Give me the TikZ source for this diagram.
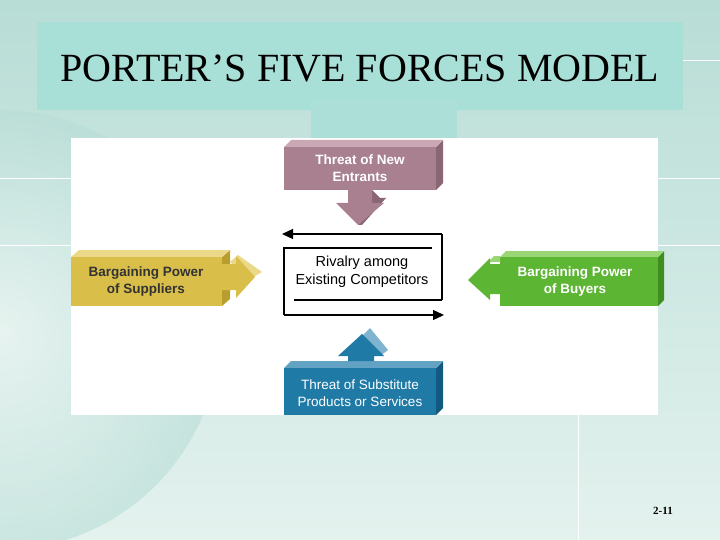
\documentclass[tikz,border=0pt]{standalone}
\usepackage{fontspec}
\setsansfont{Liberation Sans}
\setmainfont{Liberation Serif}
\usetikzlibrary{arrows.meta}
\begin{document}
\begin{tikzpicture}[x=1pt,y=-1pt,
  lbl/.style={font=\sffamily\bfseries\fontsize{13.5}{17}\selectfont,align=center},
  rline/.style={line width=1.3pt},
  rarr/.style={line width=1.3pt,-{Triangle[length=11pt,width=10pt]}}]
\definecolor{bgA}{HTML}{B8DDD6}\definecolor{bgB}{HTML}{E4F2EE}
\definecolor{ttl}{HTML}{A8E0D8}
\definecolor{pinkF}{HTML}{A8808F}\definecolor{pinkD}{HTML}{8A6674}\definecolor{pinkL}{HTML}{C9A8B4}
\definecolor{yelF}{HTML}{D9BE4A}\definecolor{yelD}{HTML}{B89E2E}\definecolor{yelL}{HTML}{EBD889}
\definecolor{grnF}{HTML}{5DB534}\definecolor{grnD}{HTML}{3E8E20}\definecolor{grnL}{HTML}{9AD676}
\definecolor{bluF}{HTML}{1F7AA6}\definecolor{bluD}{HTML}{125A80}\definecolor{bluL}{HTML}{7FB3CF}
\useasboundingbox (0,0) rectangle (720,540);
\shade[top color=bgA,bottom color=bgB] (0,0) rectangle (720,540);
\shade[inner color=white!60!bgB,outer color=bgA,opacity=.6] (0,330) circle (220);
\draw[white,line width=.8pt] (0,178)--(71,178) (0,245)--(71,245) (658,178)--(720,178) (658,245)--(720,245)
  (578,415)--(578,540) (683,60)--(720,60);
\fill[ttl] (37,22) rectangle (683,110);
\node[font=\fontsize{40}{44}\selectfont] (title) at (360,69) {PORTER’S FIVE FORCES MODEL};
\fill[ttl!80!bgA] (311,100) rectangle (457,138);
\fill[white] (71,138) rectangle (658,415);
% New entrants
\fill[pinkD] (436,147)--(443,140)--(443,183)--(436,190)--cycle;
\fill[pinkL] (284,147)--(291,140)--(443,140)--(436,147)--cycle;
\fill[pinkF] (284,147) rectangle (436,190);
\fill[pinkD] (372,190)--(380,198)--(386,198)--(362,225)--(358,225)--cycle;
\fill[pinkF] (348,190)--(372,190)--(372,203)--(384,203)--(358,225)--(336,203)--(348,203)--cycle;
\node[lbl,text=white] (ne) at (360,168) {Threat of New\\Entrants};
% rivalry
\draw[rline] (442,300)--(442,234);
\draw[rarr] (442,234)--(282,234);
\draw[rline] (432,248)--(284,248)--(284,315);
\draw[rarr] (284,315)--(444,315);
\draw[rline] (294,300)--(442,300);
\node[font=\sffamily\fontsize{14.5}{18}\selectfont,align=center] (riv) at (362,272) {Rivalry among\\Existing Competitors};
% suppliers
\fill[yelD] (222,257)--(230,250)--(230,299)--(222,306)--cycle;
\fill[yelL] (71,257)--(79,250)--(230,250)--(222,257)--cycle;
\fill[yelF] (71,257) rectangle (222,306);
\fill[yelL] (230,262)--(238,255)--(262,272)--(248,280)--cycle;
\fill[yelF] (222,264)--(236,264)--(236,256)--(255,277)--(236,298)--(236,290)--(222,290)--cycle;
\node[lbl,text=black!80] (sup) at (146,282) {Bargaining Power\\of Suppliers};
% buyers
\fill[grnD] (658,257)--(664,251)--(664,300)--(658,306)--cycle;
\fill[grnL] (500,257)--(506,251)--(664,251)--(658,257)--cycle;
\fill[grnF] (500,257) rectangle (658,306);
\fill[grnL] (488,262)--(494,256)--(500,256)--(500,262)--cycle;
\fill[grnF] (500,264)--(490,264)--(490,258)--(468,280)--(490,300)--(490,294)--(500,294)--cycle;
\node[lbl,text=white] (buy) at (575,282) {Bargaining Power\\of Buyers};
% substitutes
\fill[bluD] (436,368)--(443,361)--(443,408)--(436,415)--cycle;
\fill[bluL!70!bluF] (284,368)--(291,361)--(443,361)--(436,368)--cycle;
\fill[bluF] (284,368) rectangle (436,415);
\fill[bluL] (362,336)--(370,328)--(388,350)--(380,356)--cycle;
\fill[bluF] (348,361)--(348,356)--(338,356)--(362,334)--(384,356)--(374,356)--(374,361)--cycle;
\node[font=\sffamily\fontsize{13.5}{17}\selectfont,align=center,text=white] (sub) at (360,393) {Threat of Substitute\\Products or Services};
\node[font=\bfseries\fontsize{11}{12}\selectfont] (pg) at (663,511) {2-11};
\end{tikzpicture}
\end{document}
